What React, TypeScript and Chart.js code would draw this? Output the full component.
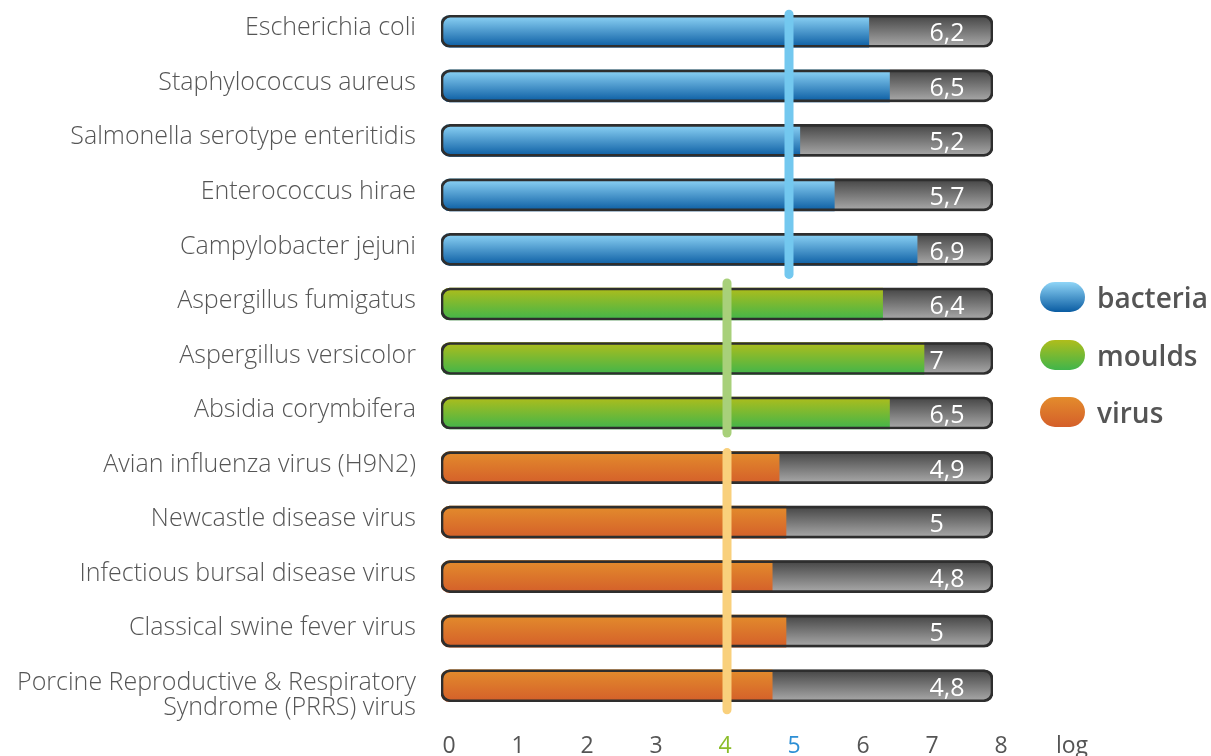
import React, { useEffect, useRef } from "react";
import { Chart, registerables } from "chart.js";

Chart.register(...registerables);

const categories: (string | string[])[] = [
  "Escherichia coli",
  "Staphylococcus aureus",
  "Salmonella serotype enteritidis",
  "Enterococcus hirae",
  "Campylobacter jejuni",
  "Aspergillus fumigatus",
  "Aspergillus versicolor",
  "Absidia corymbifera",
  "Avian influenza virus (H9N2)",
  "Newcastle disease virus",
  "Infectious bursal disease virus",
  "Classical swine fever virus",
  ["", "Porcine Reproductive & Respiratory", "Syndrome (PRRS) virus"],
];

const values = [6.2, 6.5, 5.2, 5.7, 6.9, 6.4, 7, 6.5, 4.9, 5, 4.8, 5, 4.8];

const groups = [
  "bacteria", "bacteria", "bacteria", "bacteria", "bacteria",
  "moulds", "moulds", "moulds",
  "virus", "virus", "virus", "virus", "virus",
];

const legendNames = ["bacteria", "moulds", "virus"];
const scaleMax = 8;
const fullValues = values.map(() => scaleMax);
const xTickValues = [0, 1, 2, 3, 4, 5, 6, 7, 8];
const xUnitLabel = "log";

// threshold per group: value, first index, last index
const thresholdValues = [5, 4, 4];
const thresholdFirst = [0, 5, 8];
const thresholdLast = [4, 7, 12];

const gradientStops: Record<string, [string, string]> = {
  bacteria: ["#8fd5f7", "#0a5ca2"],
  moulds: ["#afbd1b", "#40b54b"],
  virus: ["#e38c2c", "#d45f2a"],
};
const lineColors = ["#73c8ef", "#a8d07a", "#f9d07c"];
const tickColor = (v: number) => (v === 4 ? "#8cbd2a" : v === 5 ? "#2d8fd5" : "#555555");

const FONT = "'Open Sans', 'Noto Sans', sans-serif";
const BAR_H = 32;

function barGradient(ctx: any, top: string, bottom: string) {
  const chart = ctx.chart;
  const y = chart.scales && chart.scales.y;
  if (!y || ctx.type !== "data") return top;
  const yc = y.getPixelForValue(ctx.dataIndex);
  if (!isFinite(yc)) return top;
  const g = chart.ctx.createLinearGradient(0, yc - BAR_H / 2, 0, yc + BAR_H / 2);
  g.addColorStop(0, top);
  g.addColorStop(1, bottom);
  return g;
}

const overlayPlugin = {
  id: "overlay",
  afterDatasetsDraw(chart: any) {
    const { ctx, scales } = chart;
    const xs = scales.x;
    const ys = scales.y;
    ctx.save();
    // threshold lines
    const startOff = [-17, -21, -15];
    const endOff = [25, 20, 24];
    thresholdValues.forEach((v, i) => {
      const x = xs.getPixelForValue(v) + (i === 0 ? 3 : 10);
      const y1 = ys.getPixelForValue(thresholdFirst[i]) + startOff[i];
      const y2 = ys.getPixelForValue(thresholdLast[i]) + endOff[i];
      ctx.strokeStyle = lineColors[i];
      ctx.lineWidth = 9;
      ctx.lineCap = "round";
      ctx.beginPath();
      ctx.moveTo(x, y1);
      ctx.lineTo(x, y2);
      ctx.stroke();
    });
    // value labels
    ctx.fillStyle = "#ffffff";
    ctx.font = `25px ${FONT}`;
    ctx.textAlign = "left";
    ctx.textBaseline = "middle";
    values.forEach((v, i) => {
      const y = ys.getPixelForValue(i);
      ctx.fillText(String(v).replace(".", ","), xs.getPixelForValue(7.08), y + 3);
    });
    // unit label
    ctx.fillStyle = "#555555";
    ctx.font = `23px ${FONT}`;
    ctx.textAlign = "center";
    ctx.fillText(xUnitLabel, xs.getPixelForValue(8) + 79, 746);
    ctx.restore();
  },
};

export default function App() {
  const ref = useRef<HTMLCanvasElement>(null);

  useEffect(() => {
    if (!ref.current) return;
    const chart = new Chart(ref.current, {
      type: "bar",
      data: {
        labels: categories as any,
        datasets: [
          {
            label: "border",
            data: fullValues,
            backgroundColor: "rgba(0,0,0,0)",
            borderColor: "#2e2e2e",
            borderWidth: 2,
            borderRadius: 9,
            borderSkipped: false,
            barThickness: BAR_H,
            grouped: false,
            order: 0,
          },
          {
            label: "value",
            data: values,
            backgroundColor: (c: any) => {
              const s = gradientStops[groups[c.dataIndex] || "bacteria"];
              return barGradient(c, s[0], s[1]);
            },
            borderWidth: 0,
            borderRadius: { topLeft: 9, bottomLeft: 9, topRight: 0, bottomRight: 0 },
            borderSkipped: false,
            barThickness: BAR_H,
            grouped: false,
            order: 1,
          },
          {
            label: "scale",
            data: fullValues,
            backgroundColor: (c: any) => barGradient(c, "#444444", "#ababab"),
            borderWidth: 0,
            borderRadius: 9,
            borderSkipped: false,
            barThickness: BAR_H,
            grouped: false,
            order: 2,
          },
        ],
      },
      options: {
        indexAxis: "y",
        responsive: false,
        animation: false,
        devicePixelRatio: 1,
        layout: { padding: { top: 4, right: 218, left: 0, bottom: 0 } },
        plugins: { legend: { display: false }, tooltip: { enabled: false } },
        scales: {
          x: {
            min: 0,
            max: scaleMax,
            afterBuildTicks: (scale: any) => {
              scale.ticks = xTickValues.map((v) => ({ value: v }));
            },
            afterFit: (scale: any) => {
              scale.height = 43;
            },
            grid: { display: false, drawTicks: false },
            border: { display: false },
            ticks: {
              padding: 20,
              labelOffset: 8,
              autoSkip: false,
              maxRotation: 0,
              color: (c: any) => tickColor(c.tick ? c.tick.value : -1),
              font: { family: FONT, size: 23 },
            },
          },
          y: {
            afterFit: (scale: any) => {
              scale.width = 441;
              scale.paddingTop = 0;
              scale.paddingBottom = 0;
            },
            grid: { display: false, drawTicks: false },
            border: { display: false },
            ticks: {
              padding: 25,
              labelOffset: -3,
              autoSkip: false,
              color: "#555555",
              font: { family: FONT, size: 25, weight: "300" as any, lineHeight: 1.0 },
            },
          },
        },
      },
      plugins: [overlayPlugin],
    } as any);
    return () => chart.destroy();
  }, []);

  return (
    <div style={{ position: "absolute", left: 0, top: 0, width: 1211, height: 756, background: "#fff" }}>
      <canvas ref={ref} width={1211} height={756} style={{ display: "block" }} />
      {legendNames.map((name, i) => (
        <div
          key={name}
          style={{ position: "absolute", left: 1040, top: 282 + i * 57.5, height: 30, display: "flex", alignItems: "center" }}
        >
          <div
            style={{
              width: 45,
              height: 30,
              borderRadius: 15,
              background: `linear-gradient(to bottom, ${gradientStops[name][0]}, ${gradientStops[name][1]})`,
            }}
          />
          <span
            style={{
              marginLeft: 12,
              fontFamily: FONT,
              fontWeight: 600,
              fontSize: 28,
              color: "#555555",
              lineHeight: "30px",
            }}
          >
            {name}
          </span>
        </div>
      ))}
    </div>
  );
}
